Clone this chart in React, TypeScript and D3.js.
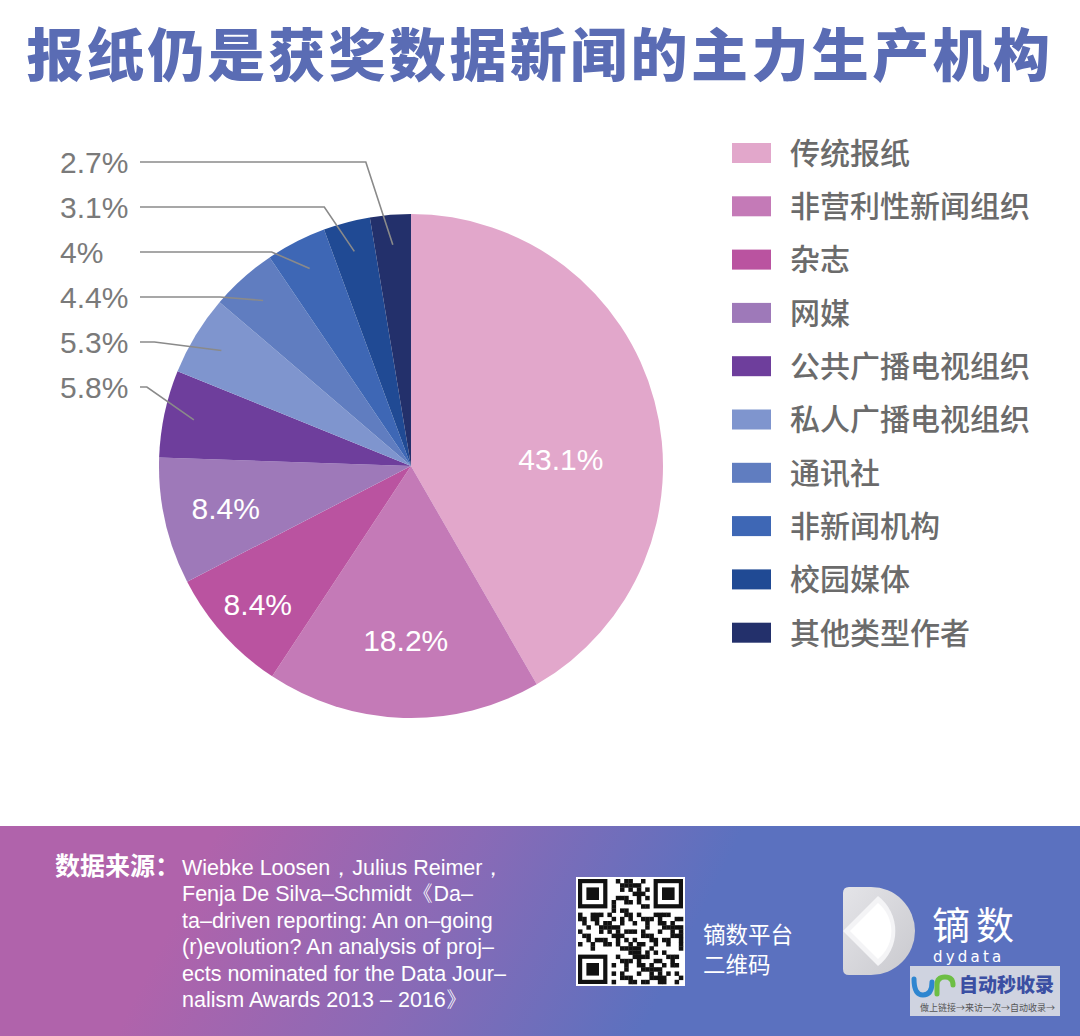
import * as d3 from 'd3';

const TITLE = '报纸仍是获奖数据新闻的主力生产机构';

const categories = [
  '传统报纸',
  '非营利性新闻组织',
  '杂志',
  '网媒',
  '公共广播电视组织',
  '私人广播电视组织',
  '通讯社',
  '非新闻机构',
  '校园媒体',
  '其他类型作者',
];
const shares = [43.1, 18.2, 8.4, 8.4, 5.8, 5.3, 4.4, 4, 3.1, 2.7];
const labels = ['43.1%', '18.2%', '8.4%', '8.4%', '5.8%', '5.3%', '4.4%', '4%', '3.1%', '2.7%'];
const colors = [
  '#E2A7CB', '#C47AB7', '#BA53A0', '#9E79B9', '#6E3E9C',
  '#7F95CE', '#607DC0', '#3E67B5', '#204A94', '#23306B',
];

const sourceLines = [
  'Wiebke Loosen，Julius Reimer，',
  'Fenja De Silva–Schmidt《Da–',
  'ta–driven reporting: An on–going',
  '(r)evolution? An analysis of proj–',
  'ects nominated for the Data Jour–',
  'nalism Awards 2013 – 2016》',
];

const W = 1080;
const H = 1036;
const CX = 411;
const CY = 466;
const R = 252;

// inner label placement (radius, angle shift in degrees) for first four slices
const innerLabel = [
  { r: 150, shift: 12.5 },
  { r: 174, shift: 0 },
  { r: 206, shift: 0 },
  { r: 190, shift: 0 },
];
// outer labels: slices 9..4 stacked on the left; diagonal length of leader
const outerOrder = [9, 8, 7, 6, 5, 4];
const leaderDx = [27, 30, 38, 43, 67, 47];

const CJK = '"Noto Sans CJK SC", "Noto Sans", sans-serif';
const LATIN = '"Liberation Sans", Arial, sans-serif';

function QrCode({ x, y, size }: { x: number; y: number; size: number }) {
  const n = 25;
  const m = size / n;
  const cells: JSX.Element[] = [];
  const inFinder = (i: number, j: number) =>
    (i < 8 && j < 8) || (i < 8 && j >= n - 8) || (i >= n - 8 && j < 8);
  for (let i = 0; i < n; i++) {
    for (let j = 0; j < n; j++) {
      if (inFinder(i, j)) continue;
      const on = ((i * 7 + j * 11 + ((i * j) % 5)) % 3) === 0 || ((i + 2 * j) % 7 === 1);
      if (on) cells.push(<rect key={`${i}-${j}`} x={x + j * m} y={y + i * m} width={m + 0.3} height={m + 0.3} fill="#111" />);
    }
  }
  const finder = (fx: number, fy: number, k: string) => (
    <g key={k}>
      <rect x={fx} y={fy} width={7 * m} height={7 * m} fill="#111" />
      <rect x={fx + m} y={fy + m} width={5 * m} height={5 * m} fill="#fff" />
      <rect x={fx + 2 * m} y={fy + 2 * m} width={3 * m} height={3 * m} fill="#111" />
    </g>
  );
  return (
    <g>
      <rect x={x - 2} y={y - 2} width={size + 4} height={size + 4} fill="#fff" />
      {cells}
      {finder(x, y, 'a')}
      {finder(x + (n - 7) * m, y, 'b')}
      {finder(x, y + (n - 7) * m, 'c')}
    </g>
  );
}

export default function App() {
  const pie = d3.pie<number>().sort(null).value(d => d)(shares);
  const arc = d3.arc<d3.PieArcDatum<number>>().innerRadius(0).outerRadius(R);

  const pointAt = (angle: number, r: number) => [Math.sin(angle) * r, -Math.cos(angle) * r];

  const legendY = d3.scaleBand<number>().domain(d3.range(categories.length)).range([126, 126 + 53.3 * categories.length]);
  const outerY = d3.scaleLinear().domain([0, outerOrder.length - 1]).range([162, 387]);

  return (
    <svg width={W} height={H} viewBox={`0 0 ${W} ${H}`} style={{ position: 'absolute', left: 0, top: 0, display: 'block' }}>
      <defs>
        <linearGradient id="foot" gradientUnits="userSpaceOnUse" x1={220} y1={826} x2={640} y2={1036}>
          <stop offset="0" stopColor="#B063AB" />
          <stop offset="0.5" stopColor="#8A6AB6" />
          <stop offset="1" stopColor="#5B71BF" />
        </linearGradient>
        <linearGradient id="logo" x1="0" y1="0" x2="1" y2="1">
          <stop offset="0" stopColor="#E4E4E8" />
          <stop offset="1" stopColor="#C9C9CE" />
        </linearGradient>
      </defs>
      <rect width={W} height={H} fill="#fff" />

      <text x={W / 2} y={76} textAnchor="middle" fontFamily={CJK} fontWeight={900} fontSize={57} letterSpacing={3.4} fill="#5A6CB4">
        {TITLE}
      </text>

      {/* Pie */}
      <g transform={`translate(${CX},${CY})`}>
        {pie.map((d, i) => (
          <path key={i} d={arc(d) ?? ''} fill={colors[i]} />
        ))}
        {innerLabel.map((l, i) => {
          const d = pie[i];
          const a = (d.startAngle + d.endAngle) / 2 + (l.shift * Math.PI) / 180;
          const [x, y] = pointAt(a, l.r);
          return (
            <text key={i} x={x} y={y} dy="0.36em" textAnchor="middle" fontFamily={LATIN} fontSize={30} fill="#fff">
              {labels[i]}
            </text>
          );
        })}
      </g>

      {/* Outer labels with leaders */}
      {outerOrder.map((idx, k) => {
        const d = pie[idx];
        const a = (d.startAngle + d.endAngle) / 2;
        const [ax, ay] = pointAt(a, 222);
        const px = CX + ax;
        const py = CY + ay;
        const ly = outerY(k);
        const ex = px - leaderDx[k];
        return (
          <g key={idx}>
            <polyline points={`140,${ly} ${ex},${ly} ${px},${py}`} fill="none" stroke="#8A8A8A" strokeWidth={1.6} />
            <text x={60} y={ly} dy="0.36em" fontFamily={LATIN} fontSize={30} fill="#7A7A7A">
              {labels[idx]}
            </text>
          </g>
        );
      })}

      {/* Legend */}
      {categories.map((c, i) => {
        const y = legendY(i) ?? 0;
        return (
          <g key={c}>
            <rect x={732} y={y + 17} width={39} height={20} fill={colors[i]} />
            <text x={790} y={y + 27} dy="0.36em" fontFamily={CJK} fontWeight={500} fontSize={30} fill="#6B6B6B">
              {c}
            </text>
          </g>
        );
      })}

      {/* Footer */}
      <rect x={0} y={826} width={W} height={H - 826} fill="url(#foot)" />
      <text x={55} y={875} fontFamily={CJK} fontWeight={700} fontSize={25} fill="#fff">
        数据来源：
      </text>
      {sourceLines.map((s, i) => (
        <text key={i} x={182} y={875 + i * 26.4} fontFamily={LATIN} fontSize={21.5} fill="#fff">
          {s}
        </text>
      ))}

      <QrCode x={578} y={879} size={105} />
      <text x={703} y={935} dy="0.36em" fontFamily={CJK} fontSize={22.5} fill="#fff">镝数平台</text>
      <text x={703} y={965} dy="0.36em" fontFamily={CJK} fontSize={22.5} fill="#fff">二维码</text>

      {/* Logo */}
      <g>
        <path d="M849,887 H871 A44,44 0 0 1 871,975 H849 Q843,975 843,969 V893 Q843,887 849,887 Z" fill="url(#logo)" />
        <path d="M843,931 L878,896 A44,44 0 0 1 878,966 Z" fill="#F4F4F6" />
        <path d="M850,931 L878,903 A36,36 0 0 1 878,959 Z" fill="#FFFFFF" />
        <text x={932} y={925} dy="0.36em" fontFamily={CJK} fontSize={38} fill="#fff" letterSpacing={6}>镝数</text>
        <text x={933} y={962} fontFamily={'"DejaVu Sans", sans-serif'} fontSize={15} fill="#fff" letterSpacing={3.2}>dydata</text>
      </g>

      {/* Watermark */}
      <g>
        <rect x={910} y={966} width={150} height={50} fill="#D6D8E2" opacity={0.95} />
        <path d="M914,979 Q914,995 923,995 Q932,995 932,982" fill="none" stroke="#2E86D0" strokeWidth={5} strokeLinecap="round" />
        <path d="M937,994 V985 Q937,977 945,977 Q953,977 953,985" fill="none" stroke="#6DBE45" strokeWidth={5} strokeLinecap="round" />
        <text x={959} y={985} dy="0.36em" fontFamily={CJK} fontWeight={900} fontSize={19} fill="#3B4FA3">自动秒收录</text>
        <text x={920} y={1008} dy="0.36em" fontFamily={CJK} fontSize={9} fill="#555">做上链接→来访一次→自动收录→</text>
      </g>
    </svg>
  );
}
